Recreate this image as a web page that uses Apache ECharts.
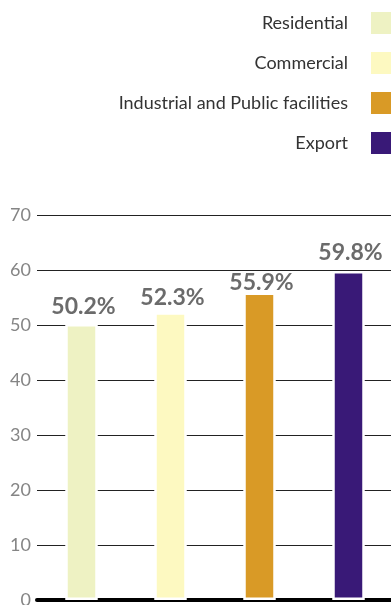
<!DOCTYPE html>
<html>
<head>
<meta charset="utf-8">
<script src="https://cdn.jsdelivr.net/npm/echarts@6/dist/echarts.min.js"></script>
<style>
  html, body { margin: 0; padding: 0; background: #fff; }
  #chart { width: 391px; height: 605px; }
</style>
</head>
<body>
<div id="chart"></div>
<script>
// Share of each sector, in percent
const categories = ['Residential', 'Commercial', 'Industrial and Public facilities', 'Export'];
const values = [50.2, 52.3, 55.9, 59.8];
const colors = ['#EEF2C3', '#FDF9C1', '#D99A26', '#391977'];
const yTicks = { min: 0, max: 70, interval: 10 };

// Gap between each value label and its bar top (the 55.9% label sits tight to stay under the 60 line)
const labelGap = [6, 3, -2, 7];

const chart = echarts.init(document.getElementById('chart'));

// One series per sector so each gets its own legend entry; stacked so they share a slot
const series = categories.map((name, i) => ({
  name: name,
  type: 'bar',
  stack: 'all',
  barWidth: 32.5,
  data: categories.map((c, j) => (j === i ? values[i] : null)),
  itemStyle: { color: colors[i], borderColor: '#fff', borderWidth: 2.5 },
  label: {
    show: true,
    position: 'top',
    distance: 0,
    offset: [2, -labelGap[i]],
    formatter: p => p.value.toFixed(1) + '%',
    color: '#6b6b6b',
    fontFamily: 'Lato',
    fontWeight: 'bold',
    fontSize: 23
  }
}));

chart.setOption({
  animation: false,
  legend: {
    orient: 'vertical',
    right: -4,
    top: 10,
    padding: 0,
    align: 'right',
    itemWidth: 24,
    itemHeight: 24,
    itemGap: 14,
    icon: 'rect',
    data: categories,
    selectedMode: false,
    textStyle: {
      color: '#333',
      fontFamily: 'Lato',
      fontSize: 18,
      lineHeight: 24,
      padding: [0, 17, 0, 0]
    }
  },
  grid: {
    left: 37, right: -2, top: 215, bottom: 5,
    containLabel: false,
    outerBoundsMode: 'none'
  },
  xAxis: {
    type: 'category',
    data: categories,
    axisLine: { show: true, lineStyle: { color: '#000', width: 4 } },
    axisTick: { show: false },
    axisLabel: { show: false }
  },
  yAxis: {
    type: 'value',
    min: yTicks.min,
    max: yTicks.max,
    interval: yTicks.interval,
    axisLine: { show: false },
    axisTick: { show: false },
    axisLabel: { color: '#858585', fontFamily: 'Lato', fontSize: 18, margin: 6 },
    splitLine: { lineStyle: { color: '#222', width: 1 } }
  },
  series: series
});
</script>
</body>
</html>
